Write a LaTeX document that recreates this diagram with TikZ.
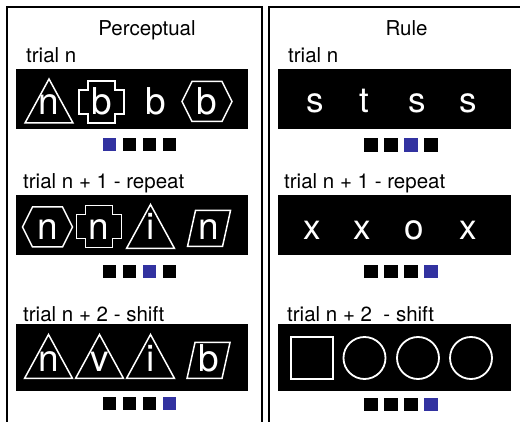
\documentclass[tikz,border=0pt]{standalone}
\usepackage{fontspec}
\setmainfont{TeX Gyre Heros}
\definecolor{selblue}{RGB}{50,50,160}
\begin{document}
\begin{tikzpicture}[x=1pt,y=-1pt,
  panel/.style={draw=black,line width=2pt},
  stimbox/.style={fill=black},
  shp/.style={draw=white,line width=1.5pt,line join=miter},
  big/.style={text=white,font=\fontsize{37}{40}\selectfont,inner sep=0pt,anchor=base},
  bigr/.style={text=white,font=\fontsize{35}{40}\selectfont,inner sep=0pt,anchor=base},
  lab/.style={font=\fontsize{20.5}{24}\selectfont,inner sep=0pt,anchor=base west},
  ttl/.style={font=\fontsize{20.5}{24}\selectfont,inner sep=0pt,anchor=base},
  sq/.style={fill=black,minimum size=13.3pt,inner sep=0pt},
  sqb/.style={fill=selblue,minimum size=13.3pt,inner sep=0pt},
  trishape/.pic={\draw[shp] (-24,22) -- (0,-22) -- (24,22) -- cycle;},
  crossshape/.pic={\draw[shp] (-13.5,-21) -- (13.5,-21) -- (13.5,-12) -- (22.5,-12) -- (22.5,12) -- (13.5,12) -- (13.5,21) -- (-13.5,21) -- (-13.5,12) -- (-22.5,12) -- (-22.5,-12) -- (-13.5,-12) -- cycle;},
  hexshape/.pic={\draw[shp] (-25,0) -- (-15,-20) -- (15,-20) -- (25,0) -- (15,20) -- (-15,20) -- cycle;},
  parashape/.pic={\draw[shp] (-21.5,18) -- (-13.5,-18) -- (21.5,-18) -- (13.5,18) -- cycle;}
]
\useasboundingbox (0,0) rectangle (520,422);
\fill[white] (0,0) rectangle (520,422);
% panels
\draw[panel] (6.5,440) -- (6.5,7) -- (261.5,7) -- (261.5,440);
\draw[panel] (268.5,440) -- (268.5,7) -- (530,7);
% titles
\node[ttl] (tP) at (147,36) {Perceptual};
\node[ttl] (tR) at (406.5,36) {Rule};
% labels
\node[lab] (lP1) at (26,63) {trial n};
\node[lab] (lP2) at (23,189) {trial n + 1 - repeat};
\node[lab] (lP3) at (23,322) {trial n + 2 - shift};
\node[lab] (lR1) at (288,63) {trial n};
\node[lab] (lR2) at (284,189) {trial n + 1 - repeat};
\node[lab] (lR3) at (287,322) {trial n + 2 \ - shift};
% black boxes
\fill[stimbox] (16,69) rectangle (248,129);
\fill[stimbox] (16,195) rectangle (248,255);
\fill[stimbox] (16,324) rectangle (248,391);
\fill[stimbox] (278,69) rectangle (511,129);
\fill[stimbox] (278,195) rectangle (511,255);
\fill[stimbox] (278,324) rectangle (511,391);
% perceptual row 1
\pic at (49,101) {trishape};   \node[big] (p11) at (49,115) {n};
\pic at (101.5,102) {crossshape}; \node[big] (p12) at (101.5,115) {b};
\node[big] (p13) at (156,115) {b};
\pic at (207,101.5) {hexshape}; \node[big] (p14) at (207,115) {b};
% perceptual row 2
\pic at (47.5,227) {hexshape};  \node[big] (p21) at (47.5,240) {n};
\pic at (99,226.5) {crossshape}; \node[big] (p22) at (99,240) {n};
\pic at (150.5,226.5) {trishape}; \node[big] (p23) at (150.5,240) {i};
\pic at (209,228.5) {parashape}; \node[big] (p24) at (209,240) {n};
% perceptual row 3
\pic at (48.5,356.5) {trishape}; \node[big] (p31) at (48.5,372) {n};
\pic at (99.5,356.5) {trishape}; \node[big] (p32) at (99.5,372) {v};
\pic at (150.5,356.5) {trishape}; \node[big] (p33) at (150.5,372) {i};
\pic at (208.5,360.5) {parashape}; \node[big] (p34) at (208.5,372) {b};
% rule row 1
\node[bigr] (r11) at (315,113) {s};
\node[bigr] (r12) at (364,113) {t};
\node[bigr] (r13) at (417,113) {s};
\node[bigr] (r14) at (468,113) {s};
% rule row 2
\node[bigr] (r21) at (312,240) {x};
\node[bigr] (r22) at (362,240) {x};
\node[bigr] (r23) at (414,240) {o};
\node[bigr] (r24) at (468,240) {x};
% rule row 3
\node[draw=white,line width=1.8pt,minimum size=42pt,inner sep=0pt] (r31) at (312,358) {};
\node[draw=white,line width=1.8pt,circle,minimum size=42pt,inner sep=0pt] (r32) at (364.5,358) {};
\node[draw=white,line width=1.8pt,circle,minimum size=42pt,inner sep=0pt] (r33) at (418,358) {};
\node[draw=white,line width=1.8pt,circle,minimum size=42pt,inner sep=0pt] (r34) at (471,358) {};
% response squares, perceptual
\node[sqb] (s1a) at (109.3,144.5) {};
\node[sq]  (s1b) at (129.3,144.5) {};
\node[sq]  (s1c) at (149.3,144.5) {};
\node[sq]  (s1d) at (169.3,144.5) {};
\node[sq]  (s2a) at (109.3,271.7) {};
\node[sq]  (s2b) at (129.3,271.7) {};
\node[sqb] (s2c) at (149.3,271.7) {};
\node[sq]  (s2d) at (169.3,271.7) {};
\node[sq]  (s3a) at (109.3,403.5) {};
\node[sq]  (s3b) at (129.3,403.5) {};
\node[sq]  (s3c) at (149.3,403.5) {};
\node[sqb] (s3d) at (169.3,403.5) {};
% response squares, rule
\node[sq]  (q1a) at (371,145) {};
\node[sq]  (q1b) at (391,145) {};
\node[sqb] (q1c) at (411,145) {};
\node[sq]  (q1d) at (431,145) {};
\node[sq]  (q2a) at (371,271.7) {};
\node[sq]  (q2b) at (391,271.7) {};
\node[sq]  (q2c) at (411,271.7) {};
\node[sqb] (q2d) at (431,271.7) {};
\node[sq]  (q3a) at (371,404.5) {};
\node[sq]  (q3b) at (391,404.5) {};
\node[sq]  (q3c) at (411,404.5) {};
\node[sqb] (q3d) at (431,404.5) {};
\end{tikzpicture}
\end{document}
